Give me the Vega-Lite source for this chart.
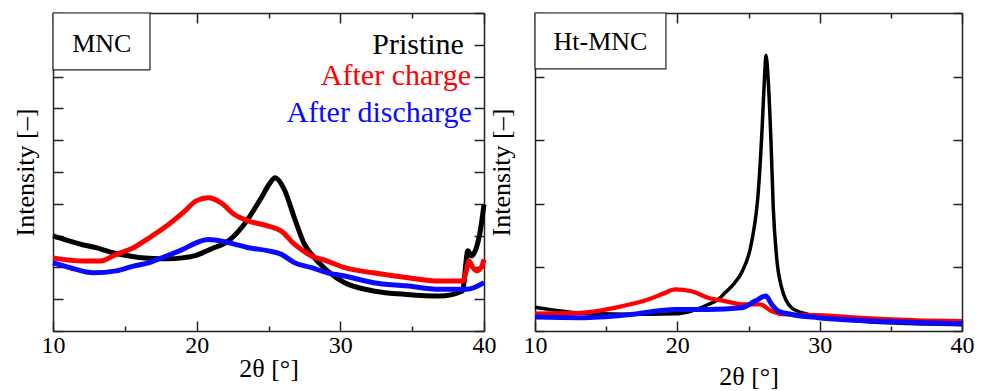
{
  "$schema": "https://vega.github.io/schema/vega-lite/v6.json",
  "padding": {"left": 12, "top": 12, "right": 0, "bottom": 0},
  "spacing": -8,
  "config": {
    "view": {"stroke": null},
    "font": "Liberation Serif",
    "text": {"font": "Liberation Serif"},
    "axis": {
      "domainColor": "#222222", "domainWidth": 1.5, "tickColor": "#222222", "tickWidth": 1.5,
      "labelFont": "Liberation Serif", "labelFontSize": 24, "labelColor": "#000000",
      "titleFont": "Liberation Serif", "titleFontSize": 26, "titleFontWeight": "normal", "titleColor": "#000000",
      "grid": false
    }
  },
  "datasets": {
    "mnc": [
      {"series": "Pristine", "x": 10, "y": 2.99}, {"series": "Pristine", "x": 11, "y": 2.85}, {"series": "Pristine", "x": 12, "y": 2.72},
      {"series": "Pristine", "x": 13, "y": 2.62}, {"series": "Pristine", "x": 14, "y": 2.48}, {"series": "Pristine", "x": 15, "y": 2.38},
      {"series": "Pristine", "x": 16, "y": 2.31}, {"series": "Pristine", "x": 17, "y": 2.28}, {"series": "Pristine", "x": 18, "y": 2.27},
      {"series": "Pristine", "x": 19, "y": 2.3}, {"series": "Pristine", "x": 19.9, "y": 2.37}, {"series": "Pristine", "x": 21, "y": 2.58},
      {"series": "Pristine", "x": 22.2, "y": 2.83}, {"series": "Pristine", "x": 23.3, "y": 3.35}, {"series": "Pristine", "x": 24.5, "y": 4.19},
      {"series": "Pristine", "x": 25.1, "y": 4.65}, {"series": "Pristine", "x": 25.45, "y": 4.82}, {"series": "Pristine", "x": 26.1, "y": 4.45},
      {"series": "Pristine", "x": 26.8, "y": 3.56}, {"series": "Pristine", "x": 27.5, "y": 2.73}, {"series": "Pristine", "x": 28, "y": 2.41},
      {"series": "Pristine", "x": 29.1, "y": 1.89}, {"series": "Pristine", "x": 30.3, "y": 1.52}, {"series": "Pristine", "x": 31.3, "y": 1.36},
      {"series": "Pristine", "x": 32.3, "y": 1.26}, {"series": "Pristine", "x": 34.6, "y": 1.15}, {"series": "Pristine", "x": 36.9, "y": 1.1},
      {"series": "Pristine", "x": 38.5, "y": 1.26}, {"series": "Pristine", "x": 38.88, "y": 2.52}, {"series": "Pristine", "x": 39.12, "y": 2.36},
      {"series": "Pristine", "x": 39.47, "y": 2.62}, {"series": "Pristine", "x": 39.7, "y": 3.04}, {"series": "Pristine", "x": 40, "y": 3.98},
      {"series": "After charge", "x": 10, "y": 2.3}, {"series": "After charge", "x": 12.1, "y": 2.2}, {"series": "After charge", "x": 13.3, "y": 2.2},
      {"series": "After charge", "x": 14.4, "y": 2.41}, {"series": "After charge", "x": 15.6, "y": 2.62}, {"series": "After charge", "x": 16.7, "y": 2.93},
      {"series": "After charge", "x": 17.9, "y": 3.3}, {"series": "After charge", "x": 19.05, "y": 3.72}, {"series": "After charge", "x": 20, "y": 4.1},
      {"series": "After charge", "x": 20.8, "y": 4.19}, {"series": "After charge", "x": 21.7, "y": 4.03}, {"series": "After charge", "x": 22.6, "y": 3.67},
      {"series": "After charge", "x": 23.6, "y": 3.46}, {"series": "After charge", "x": 25, "y": 3.3}, {"series": "After charge", "x": 25.9, "y": 3.14},
      {"series": "After charge", "x": 26.8, "y": 2.73}, {"series": "After charge", "x": 28, "y": 2.36}, {"series": "After charge", "x": 29.1, "y": 2.2},
      {"series": "After charge", "x": 30.3, "y": 1.99}, {"series": "After charge", "x": 32.3, "y": 1.83}, {"series": "After charge", "x": 34.6, "y": 1.68},
      {"series": "After charge", "x": 36.9, "y": 1.57}, {"series": "After charge", "x": 38.5, "y": 1.57}, {"series": "After charge", "x": 38.77, "y": 1.89},
      {"series": "After charge", "x": 38.95, "y": 2.2}, {"series": "After charge", "x": 39.23, "y": 1.99}, {"series": "After charge", "x": 39.5, "y": 1.89},
      {"series": "After charge", "x": 39.8, "y": 1.99}, {"series": "After charge", "x": 40, "y": 2.25},
      {"series": "After discharge", "x": 10, "y": 2.15}, {"series": "After discharge", "x": 11.2, "y": 1.99}, {"series": "After discharge", "x": 12.8, "y": 1.83},
      {"series": "After discharge", "x": 14.4, "y": 1.89}, {"series": "After discharge", "x": 15.6, "y": 2.04}, {"series": "After discharge", "x": 16.7, "y": 2.15},
      {"series": "After discharge", "x": 17.9, "y": 2.36}, {"series": "After discharge", "x": 19.05, "y": 2.57}, {"series": "After discharge", "x": 20, "y": 2.78},
      {"series": "After discharge", "x": 20.8, "y": 2.88}, {"series": "After discharge", "x": 22.2, "y": 2.78}, {"series": "After discharge", "x": 23.6, "y": 2.62},
      {"series": "After discharge", "x": 25, "y": 2.52}, {"series": "After discharge", "x": 25.9, "y": 2.41}, {"series": "After discharge", "x": 26.8, "y": 2.15},
      {"series": "After discharge", "x": 28, "y": 1.99}, {"series": "After discharge", "x": 29.1, "y": 1.83}, {"series": "After discharge", "x": 30.3, "y": 1.73},
      {"series": "After discharge", "x": 32.3, "y": 1.52}, {"series": "After discharge", "x": 34.6, "y": 1.42}, {"series": "After discharge", "x": 36.9, "y": 1.31},
      {"series": "After discharge", "x": 38.8, "y": 1.31}, {"series": "After discharge", "x": 40, "y": 1.52}
    ],
    "htmnc": [
      {"series": "Pristine", "x": 10, "y": 0.75}, {"series": "Pristine", "x": 11, "y": 0.68}, {"series": "Pristine", "x": 12, "y": 0.62},
      {"series": "Pristine", "x": 13, "y": 0.57}, {"series": "Pristine", "x": 14.5, "y": 0.54}, {"series": "Pristine", "x": 16.5, "y": 0.53},
      {"series": "Pristine", "x": 18, "y": 0.53}, {"series": "Pristine", "x": 19.85, "y": 0.54}, {"series": "Pristine", "x": 21, "y": 0.63},
      {"series": "Pristine", "x": 22.2, "y": 0.84}, {"series": "Pristine", "x": 22.9, "y": 1.0}, {"series": "Pristine", "x": 23.35, "y": 1.2},
      {"series": "Pristine", "x": 24, "y": 1.5}, {"series": "Pristine", "x": 24.53, "y": 1.85}, {"series": "Pristine", "x": 25.23, "y": 2.82},
      {"series": "Pristine", "x": 25.69, "y": 4.39}, {"series": "Pristine", "x": 25.97, "y": 6.5}, {"series": "Pristine", "x": 26.11, "y": 7.84},
      {"series": "Pristine", "x": 26.23, "y": 8.67}, {"series": "Pristine", "x": 26.39, "y": 7.84}, {"series": "Pristine", "x": 26.58, "y": 5.96},
      {"series": "Pristine", "x": 26.74, "y": 3.87}, {"series": "Pristine", "x": 26.98, "y": 2.3}, {"series": "Pristine", "x": 27.33, "y": 1.36},
      {"series": "Pristine", "x": 28.03, "y": 0.73}, {"series": "Pristine", "x": 29.2, "y": 0.52}, {"series": "Pristine", "x": 30.6, "y": 0.41},
      {"series": "Pristine", "x": 32.9, "y": 0.31}, {"series": "Pristine", "x": 35.3, "y": 0.25}, {"series": "Pristine", "x": 37.6, "y": 0.22},
      {"series": "Pristine", "x": 40, "y": 0.2},
      {"series": "After charge", "x": 10, "y": 0.55}, {"series": "After charge", "x": 13.2, "y": 0.57}, {"series": "After charge", "x": 15.5, "y": 0.72},
      {"series": "After charge", "x": 16.7, "y": 0.84}, {"series": "After charge", "x": 18, "y": 1.0}, {"series": "After charge", "x": 19, "y": 1.17},
      {"series": "After charge", "x": 19.85, "y": 1.31}, {"series": "After charge", "x": 21, "y": 1.25}, {"series": "After charge", "x": 22.2, "y": 1.04},
      {"series": "After charge", "x": 23.35, "y": 0.94}, {"series": "After charge", "x": 24.5, "y": 0.84}, {"series": "After charge", "x": 25.8, "y": 0.84},
      {"series": "After charge", "x": 26.6, "y": 0.63}, {"series": "After charge", "x": 27.6, "y": 0.52}, {"series": "After charge", "x": 29.9, "y": 0.5},
      {"series": "After charge", "x": 32.9, "y": 0.41}, {"series": "After charge", "x": 36.5, "y": 0.34}, {"series": "After charge", "x": 40, "y": 0.31},
      {"series": "After discharge", "x": 10, "y": 0.44}, {"series": "After discharge", "x": 13.2, "y": 0.42}, {"series": "After discharge", "x": 16.7, "y": 0.52},
      {"series": "After discharge", "x": 19.85, "y": 0.68}, {"series": "After discharge", "x": 22.2, "y": 0.68}, {"series": "After discharge", "x": 24.5, "y": 0.73},
      {"series": "After discharge", "x": 25.46, "y": 0.94}, {"series": "After discharge", "x": 26.21, "y": 1.1}, {"series": "After discharge", "x": 26.63, "y": 0.84},
      {"series": "After discharge", "x": 27.09, "y": 0.63}, {"series": "After discharge", "x": 28.03, "y": 0.52}, {"series": "After discharge", "x": 29.9, "y": 0.42},
      {"series": "After discharge", "x": 33, "y": 0.33}, {"series": "After discharge", "x": 36.5, "y": 0.27}, {"series": "After discharge", "x": 40, "y": 0.23}
    ],
    "one": [{}]
  },
  "hconcat": [
    {
      "width": 431,
      "height": 318,
      "layer": [
        {
          "data": {"name": "mnc"},
          "mark": {"type": "line", "strokeWidth": 5, "interpolate": "monotone"},
          "encoding": {
            "x": {"field": "x", "type": "quantitative", "scale": {"domain": [10, 40], "nice": false, "zero": false},
              "axis": {"orient": "bottom", "values": [10, 15, 20, 25, 30, 35, 40], "labelExpr": "datum.value % 10 === 0 ? datum.label : ''",
                "tickSize": {"condition": {"test": "datum.value % 10 === 0", "value": -10}, "value": -5},
                "labelPadding": 12, "labelFlush": false, "title": "2θ [°]", "titlePadding": -2}},
            "y": {"field": "y", "type": "quantitative", "scale": {"domain": [0, 10], "nice": false},
              "axis": {"orient": "left", "values": [0, 1, 2, 3, 4, 5, 6, 7, 8, 9, 10], "labels": false, "tickSize": -10, "title": "Intensity [–]", "titlePadding": 14}},
            "color": {"field": "series", "type": "nominal", "sort": ["Pristine", "After charge", "After discharge"],
              "scale": {"domain": ["Pristine", "After charge", "After discharge"], "range": ["#000000", "#ff0000", "#0a0aff"]}, "legend": null}
          }
        },
        {
          "data": {"name": "mnc"},
          "mark": {"type": "line", "opacity": 0},
          "encoding": {
            "x": {"field": "x", "type": "quantitative",
              "axis": {"orient": "top", "values": [10, 15, 20, 25, 30, 35, 40], "labels": false,
                "tickSize": {"condition": {"test": "datum.value % 10 === 0", "value": -10}, "value": -5}, "title": null}},
            "y": {"field": "y", "type": "quantitative",
              "axis": {"orient": "right", "values": [0, 1, 2, 3, 4, 5, 6, 7, 8, 9, 10], "labels": false, "tickSize": -10, "title": null}}
          }
        },
        {
          "data": {"name": "one"},
          "mark": {"type": "rect", "fill": "#ffffff", "stroke": "#222222", "strokeWidth": 1.2},
          "encoding": {
            "x": {"datum": 10, "type": "quantitative", "axis": null}, "x2": {"datum": 16.75},
            "y": {"datum": 8.21, "type": "quantitative", "axis": null}, "y2": {"datum": 10}
          }
        },
        {
          "data": {"name": "one"},
          "mark": {"type": "text", "text": "MNC", "fontSize": 26, "align": "center", "baseline": "middle", "color": "#000000"},
          "encoding": {"x": {"datum": 13.4, "type": "quantitative", "axis": null}, "y": {"datum": 9.04, "type": "quantitative", "axis": null}}
        },
        {
          "data": {"name": "one"},
          "mark": {"type": "text", "text": "Pristine", "fontSize": 30, "align": "right", "baseline": "alphabetic", "color": "#000000"},
          "encoding": {"x": {"datum": 38.6, "type": "quantitative", "axis": null}, "y": {"datum": 8.72, "type": "quantitative", "axis": null}}
        },
        {
          "data": {"name": "one"},
          "mark": {"type": "text", "text": "After charge", "fontSize": 30, "align": "right", "baseline": "alphabetic", "color": "#ff0000"},
          "encoding": {"x": {"datum": 39.1, "type": "quantitative", "axis": null}, "y": {"datum": 7.74, "type": "quantitative", "axis": null}}
        },
        {
          "data": {"name": "one"},
          "mark": {"type": "text", "text": "After discharge", "fontSize": 30, "align": "right", "baseline": "alphabetic", "color": "#0a0aff"},
          "encoding": {"x": {"datum": 39.15, "type": "quantitative", "axis": null}, "y": {"datum": 6.57, "type": "quantitative", "axis": null}}
        }
      ],
      "resolve": {"axis": {"x": "independent", "y": "independent"}}
    },
    {
      "width": 427,
      "height": 318,
      "layer": [
        {
          "data": {"name": "htmnc"},
          "mark": {"type": "line", "interpolate": "monotone"},
          "encoding": {
            "x": {"field": "x", "type": "quantitative", "scale": {"domain": [10, 40], "nice": false, "zero": false},
              "axis": {"orient": "bottom", "values": [10, 15, 20, 25, 30, 35, 40], "labelExpr": "datum.value % 10 === 0 ? datum.label : ''",
                "tickSize": {"condition": {"test": "datum.value % 10 === 0", "value": -10}, "value": -5},
                "labelPadding": 12, "labelFlush": false, "title": "2θ [°]", "titlePadding": 6}},
            "y": {"field": "y", "type": "quantitative", "scale": {"domain": [0, 10], "nice": false},
              "axis": {"orient": "left", "values": [0, 2, 4, 6, 8, 10], "labels": false, "tickSize": -9, "title": "Intensity [–]", "titlePadding": 20}},
            "color": {"field": "series", "type": "nominal", "sort": ["Pristine", "After charge", "After discharge"],
              "scale": {"domain": ["Pristine", "After charge", "After discharge"], "range": ["#000000", "#ff0000", "#0a0aff"]}, "legend": null},
            "size": {"field": "series", "type": "nominal", "scale": {"domain": ["Pristine", "After charge", "After discharge"], "range": [3.5, 5, 5]}, "legend": null}
          }
        },
        {
          "data": {"name": "htmnc"},
          "mark": {"type": "line", "opacity": 0},
          "encoding": {
            "x": {"field": "x", "type": "quantitative",
              "axis": {"orient": "top", "values": [10, 15, 20, 25, 30, 35, 40], "labels": false,
                "tickSize": {"condition": {"test": "datum.value % 10 === 0", "value": -10}, "value": -5}, "title": null}},
            "y": {"field": "y", "type": "quantitative",
              "axis": {"orient": "right", "values": [0, 2, 4, 6, 8, 10], "labels": false, "tickSize": -9, "title": null}}
          }
        },
        {
          "data": {"name": "one"},
          "mark": {"type": "rect", "fill": "#ffffff", "stroke": "#222222", "strokeWidth": 1.2},
          "encoding": {
            "x": {"datum": 10, "type": "quantitative", "axis": null}, "x2": {"datum": 19.2},
            "y": {"datum": 8.24, "type": "quantitative", "axis": null}, "y2": {"datum": 10}
          }
        },
        {
          "data": {"name": "one"},
          "mark": {"type": "text", "text": "Ht-MNC", "fontSize": 26, "align": "center", "baseline": "middle", "color": "#000000"},
          "encoding": {"x": {"datum": 14.6, "type": "quantitative", "axis": null}, "y": {"datum": 9.09, "type": "quantitative", "axis": null}}
        }
      ],
      "resolve": {"axis": {"x": "independent", "y": "independent"}}
    }
  ]
}
